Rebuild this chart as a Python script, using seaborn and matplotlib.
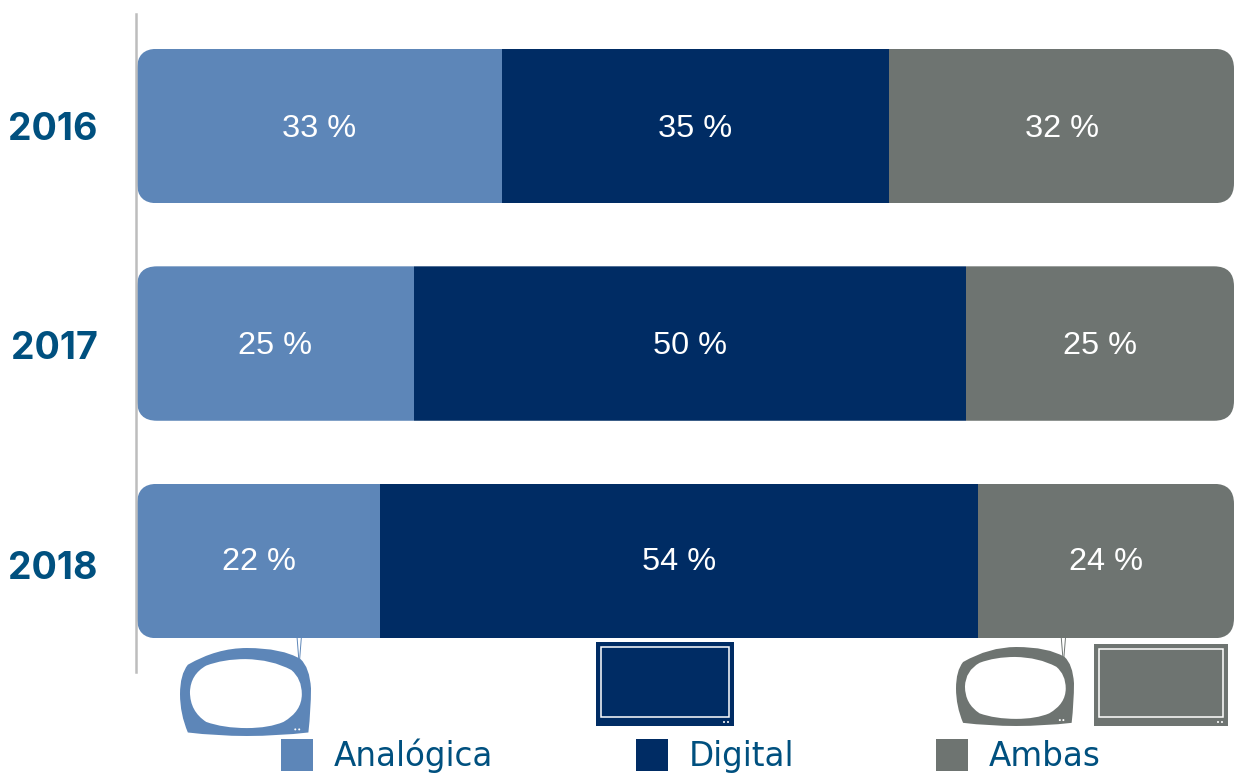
import matplotlib
matplotlib.use('Agg')
import numpy as np
import matplotlib.pyplot as plt
import seaborn as sns
from matplotlib.patches import FancyBboxPatch, PathPatch, Rectangle, Circle
from matplotlib.path import Path
from matplotlib.transforms import Affine2D, ScaledTranslation

years = ['2016', '2017', '2018']
analogica = [33, 25, 22]
digital = [35, 50, 54]
ambas = [32, 25, 24]
series_names = ['Analógica', 'Digital', 'Ambas']

BLUE = '#5d86b8'
NAVY = '#002c64'
GREY = '#6e7471'
TEXT = '#00507f'

W, H = 1234, 773
sns.set_theme(style='white')
plt.rcParams['font.family'] = ['Liberation Sans', 'DejaVu Sans']

fig = plt.figure(figsize=(W / 100, H / 100), dpi=100)
ax = fig.add_axes([135.5 / W, (H - 672) / H, (W - 135.5) / W, 658 / H])

left = np.zeros(3)
for name, vals, col in zip(series_names, [analogica, digital, ambas], [BLUE, NAVY, GREY]):
    sns.barplot(x=vals, y=years, left=left, color=col, saturation=1, width=0.71,
                orient='h', label=name, linewidth=0, ax=ax)
    left = left + np.array(vals)

ax.set_xlim(-0.14, 99.19)
ax.set_ylim(2.51, -0.515)
ax.set_xlabel('')
ax.set_ylabel('')
ax.set_xticks([])
sns.despine(ax=ax, left=False, bottom=True)
ax.spines['left'].set_color('#bdbdbd')
ax.spines['left'].set_linewidth(1.8)

# rounded row ends, the last segment runs past the picture edge
for c in ax.containers:
    texts = ax.bar_label(c, fmt='%d %%', label_type='center', color='white', fontsize=23.4,
                         family='Liberation Sans')
    for t, dy in zip(texts, [-2, -2, -1]):
        t.xyann = (0, dy)
    for bar in c:
        clip = FancyBboxPatch((0, bar.get_y()), 99.19, bar.get_height(),
                              boxstyle='round,pad=0,rounding_size=1.8',
                              mutation_aspect=0.051, transform=ax.transData)
        bar.set_clip_path(clip)

ax.tick_params(axis='y', length=0, pad=27)
nudge = [0, 1, 4]
for lab, dy in zip(ax.get_yticklabels(), nudge):
    lab.set_fontfamily('Inter')
    lab.set_fontweight('bold')
    lab.set_fontsize(27)
    lab.set_color(TEXT)
    lab.set_transform(lab.get_transform() + ScaledTranslation(0, -dy / 100, fig.dpi_scale_trans))

handles, labels = ax.get_legend_handles_labels()
ax.get_legend().remove()
leg = fig.legend(handles, labels, ncol=3, loc='lower left', bbox_to_anchor=(281 / W, 0),
                 frameon=False, borderpad=0, borderaxespad=0,
                 handlelength=0.98, handleheight=1.13, handletextpad=0.64, columnspacing=4.36,
                 prop={'family': 'DejaVu Sans', 'size': 23.5})
for t in leg.get_texts():
    t.set_color(TEXT)

# icons, in pixels from the top left corner
px = Affine2D().scale(1, -1).translate(0, H)
Q = Path.CURVE3

def curve(points):
    verts = [points[0]]
    codes = [Path.MOVETO]
    for ctrl, end in points[1:]:
        verts += [ctrl, end]
        codes += [Q, Q]
    return np.array(verts), codes

OUTER = [(.06, .19), ((.28, 0), (.51, 0)), ((.78, 0), (.92, .126)), ((.99, .22), (1, .46)),
         ((1, .7), (.98, .96)), ((.75, 1), (.51, 1)), ((.28, 1), (.06, .96)),
         ((0, .75), (0, .525)), ((0, .3), (.06, .19))]
INNER = [(.2, .2), ((.33, .126), (.5, .126)), ((.7, .13), (.85, .25)), ((.93, .35), (.93, .525)),
         ((.93, .72), (.79, .84)), ((.68, .91), (.51, .91)), ((.33, .91), (.2, .84)),
         ((.076, .72), (.076, .5)), ((.08, .3), (.2, .2))]

def old_tv(x0, x1, y0, y1, col):
    for shape, fc in [(OUTER, col), (INNER, 'white')]:
        v, codes = curve(shape)
        v = v * [x1 - x0, y1 - y0] + [x0, y0]
        fig.add_artist(PathPatch(Path(v, codes), fc=fc, ec='none', transform=px))
    ax_x = x0 + 0.91 * (x1 - x0)
    for dx in [-1.5, 1.5]:
        fig.add_artist(plt.Line2D([ax_x + dx * 0.3, ax_x + dx * 1.4], [y0 + 11, 638], color=col,
                                  lw=0.7, transform=px))
    for dx in [0.88, 0.91]:
        fig.add_artist(Circle((x0 + dx * (x1 - x0), y0 + 0.925 * (y1 - y0)), 1, fc='white', ec='none',
                              transform=px))

def flat_tv(x0, x1, y0, y1, col, m=5):
    fig.add_artist(Rectangle((x0, y0), x1 - x0, y1 - y0, fc=col, ec='none', transform=px))
    fig.add_artist(Rectangle((x0 + m, y0 + m), x1 - x0 - 2 * m, y1 - y0 - m - 9, fc='none', ec='white',
                             lw=1.1, transform=px))
    for dx in [7, 3]:
        fig.add_artist(Circle((x1 - dx - 3, y1 - 4), 1, fc='white', ec='none', transform=px))

old_tv(180, 311, 648, 736, BLUE)
flat_tv(596, 734, 642, 726, NAVY)
old_tv(956, 1074, 647, 726, GREY)
flat_tv(1094, 1228, 644, 726, GREY)

fig.savefig('out.png', dpi=100)
